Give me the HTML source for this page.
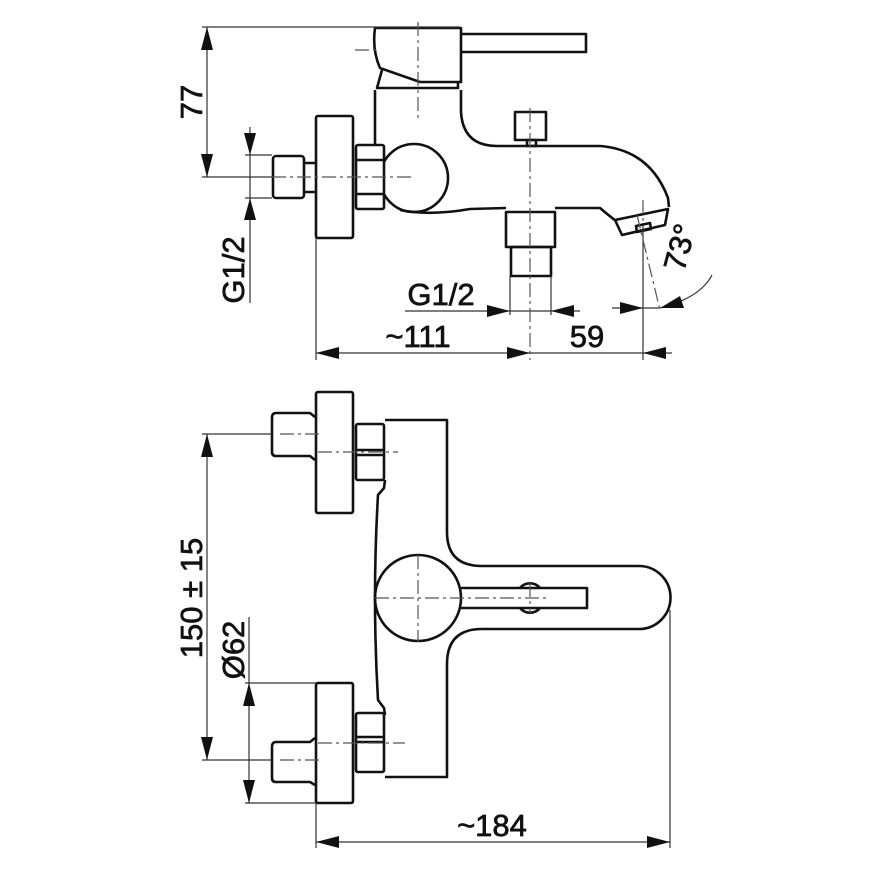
<!DOCTYPE html>
<html><head><meta charset="utf-8"><style>
html,body{margin:0;padding:0;background:#fff}
svg{display:block}
text{font-family:"Liberation Sans",Arial,sans-serif;font-size:31px;fill:#111;stroke:#111;stroke-width:0.7}
</style></head><body>
<svg width="870" height="870" viewBox="0 0 870 870" xmlns="http://www.w3.org/2000/svg">
<g fill="none" stroke="#111" stroke-width="2.6" stroke-linejoin="round">
<!-- ===== TOP VIEW ===== -->
<path d="M375,28 L461,28 L461,82 L420,82 L380,68 Q372,50 375,28 Z"/>
<path d="M461,34 L586,34 L586,52 L461,52"/>
<path d="M382,70 L377,88 L458,88 L458,82"/>
<path d="M375,90 L375,145"/>
<path d="M461,90 L461,112 Q463,146 497,146 L600,146 Q650,150 668,198 L669,207"/>
<!-- ball -->
<circle cx="414" cy="178" r="34" fill="#fff"/>
<path d="M400,210 Q430,216 470,209 L506,208"/>
<path d="M555,208 L600,208 Q607,214 616,221"/>
<!-- aerator -->
<path d="M615,220 L668,209 L665,225 L622,235 Z" fill="#fff"/>
<path d="M636,226 L650,223 L651,229 L637,232 Z"/>
<!-- nut -->
<rect x="356" y="145" width="28" height="64" rx="2" fill="#fff"/>
<line x1="357" y1="160" x2="383" y2="160"/>
<line x1="357" y1="194" x2="383" y2="194"/>
<rect x="316" y="116" width="37" height="122" rx="2"/>
<rect x="273" y="156" width="31" height="42" rx="3"/>
<path d="M304,163 L316,163 M304,192 L316,192"/>
<rect x="515" y="112" width="31" height="28"/>
<rect x="527" y="140" width="9" height="6"/>
<rect x="506" y="212" width="49" height="35"/>
<rect x="511" y="247" width="40" height="29"/>
<!-- ===== BOTTOM VIEW ===== -->
<rect x="316" y="392" width="37" height="121" rx="2"/>
<path d="M315,417 L310,413 L276,413 Q272,413 272,418 L272,452 Q272,456 276,456 L310,456 L315,460"/>
<rect x="356" y="424" width="28" height="56" rx="2"/>
<line x1="357" y1="450" x2="383" y2="450"/><line x1="357" y1="455" x2="383" y2="455"/>
<path d="M385,420 L447,420 L447,532 Q447,566 482,566 L639,566 A31,31 0 0 1 639,629 L482,629 Q447,629 447,664 L447,777 L385,777"/>
<path d="M385,480 L384,488 L378,495 Q372,598 378,700 L384,708 L385,715"/>
<circle cx="418" cy="598" r="43"/>
<path d="M461,588 L587,588 L587,608 L461,608"/>
<path d="M520,588 A13,13 0 0 1 540,588 M520,608 A13,13 0 0 0 540,608"/>
<rect x="316" y="683" width="37" height="120" rx="2"/>
<path d="M315,738 L310,742 L276,742 Q272,742 272,747 L272,778 Q272,782 276,782 L310,782 L315,785"/>
<rect x="356" y="713" width="28" height="59" rx="2"/>
<line x1="357" y1="737" x2="383" y2="737"/><line x1="357" y1="742" x2="383" y2="742"/>
</g>
<g fill="none" stroke="#333" stroke-width="1.2">
<line x1="202" y1="27" x2="460" y2="27"/>
<line x1="207" y1="27" x2="207" y2="177"/>
<line x1="202" y1="177" x2="272" y2="177"/>
<line x1="245" y1="155" x2="272" y2="155"/>
<line x1="245" y1="198" x2="272" y2="198"/>
<line x1="250" y1="127" x2="250" y2="303"/>
<line x1="316" y1="238" x2="316" y2="360"/>
<line x1="316" y1="353" x2="672" y2="353"/>
<line x1="405" y1="311" x2="580" y2="311"/>
<line x1="510" y1="276" x2="510" y2="315"/>
<line x1="551" y1="276" x2="551" y2="315"/>
<line x1="612" y1="308" x2="660" y2="308"/>
<line x1="643" y1="225" x2="643" y2="360"/>
<path d="M660,308 Q700,298 712,275"/>
<line x1="202" y1="434" x2="272" y2="434"/>
<line x1="202" y1="760" x2="272" y2="760"/>
<line x1="207" y1="434" x2="207" y2="760"/>
<line x1="245" y1="683" x2="316" y2="683"/>
<line x1="245" y1="803" x2="316" y2="803"/>
<line x1="249" y1="617" x2="249" y2="803"/>
<line x1="316" y1="803" x2="316" y2="848"/>
<line x1="670" y1="610" x2="670" y2="848"/>
<line x1="316" y1="842" x2="670" y2="842"/>
</g>
<g fill="none" stroke="#555" stroke-width="1.2" stroke-dasharray="14,4,3,4">
<line x1="418" y1="22" x2="418" y2="120"/>
<line x1="355" y1="50" x2="380" y2="50"/>
<line x1="272" y1="177" x2="412" y2="177"/>
<line x1="530" y1="108" x2="530" y2="360"/>
<line x1="637" y1="215" x2="660" y2="310"/>
<line x1="643" y1="200" x2="643" y2="225"/>
<line x1="280" y1="434" x2="322" y2="434"/>
<line x1="318" y1="452" x2="398" y2="452"/>
<line x1="375" y1="598" x2="548" y2="598"/>
<line x1="418" y1="555" x2="418" y2="642"/>
<line x1="530" y1="583" x2="530" y2="613"/>
<line x1="318" y1="743" x2="405" y2="743"/>
<line x1="280" y1="760" x2="322" y2="760"/>
</g>
<g fill="#111" stroke="none">
<path d="M207,27 L201,50 L213,50 Z"/>
<path d="M207,177 L201,154 L213,154 Z"/>
<path d="M250,155 L244,133 L256,133 Z"/>
<path d="M250,198 L244,220 L256,220 Z"/>
<path d="M316,353 L339,347 L339,359 Z"/>
<path d="M530,353 L507,347 L507,359 Z"/>
<path d="M643,353 L666,347 L666,359 Z"/>
<path d="M510,311 L487,305 L487,317 Z"/>
<path d="M551,311 L574,305 L574,317 Z"/>
<path d="M643,308 L620,302 L620,314 Z"/>
<path d="M660,308 L680,296 L684,308 Z"/>
<path d="M207,434 L201,457 L213,457 Z"/>
<path d="M207,760 L201,737 L213,737 Z"/>
<path d="M249,683 L243,706 L255,706 Z"/>
<path d="M249,803 L243,780 L255,780 Z"/>
<path d="M316,842 L339,836 L339,848 Z"/>
<path d="M670,842 L647,836 L647,848 Z"/>
</g>
<text transform="translate(202,102) rotate(-90)" text-anchor="middle">77</text>
<text transform="translate(244,270) rotate(-90)" text-anchor="middle">G1/2</text>
<text x="441" y="305" text-anchor="middle">G1/2</text>
<text x="418" y="347" text-anchor="middle">~111</text>
<text x="587" y="347" text-anchor="middle">59</text>
<text transform="translate(690,250) rotate(-75)" text-anchor="middle">73°</text>
<text transform="translate(202,598) rotate(-90)" text-anchor="middle">150 ± 15</text>
<text transform="translate(244,650) rotate(-90)" text-anchor="middle">Ø62</text>
<text x="492" y="836" text-anchor="middle">~184</text>
</svg>
</body></html>
